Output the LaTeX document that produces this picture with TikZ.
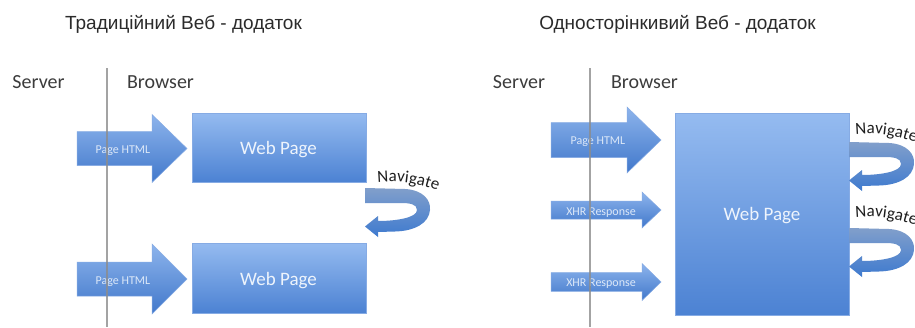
\documentclass[tikz,border=0pt]{standalone}
\usepackage{fontspec}
\setmainfont{Liberation Sans}
\newfontfamily\calfont{Carlito}
\usetikzlibrary{decorations.text}
\definecolor{boxtop}{HTML}{95BBF0}
\definecolor{boxbot}{HTML}{4C82D3}
\definecolor{boxline}{HTML}{86ABE4}
\definecolor{arrtop}{HTML}{8DB4EC}
\definecolor{arrbot}{HTML}{4178CB}
\definecolor{curltop}{HTML}{819FCB}
\definecolor{curlbot}{HTML}{3E7ACF}
\definecolor{linegray}{HTML}{8C8C8C}
\definecolor{labelgray}{HTML}{3C3C3C}
\definecolor{titlegray}{HTML}{2B2B2B}
\definecolor{pagetext}{HTML}{EEF4FC}
\definecolor{arrtext}{HTML}{DCE8F8}
\definecolor{navtext}{HTML}{1E1E1E}
\newcommand{\navstyle}{\calfont\fontsize{17}{17}\selectfont\color{navtext}}
% x1, xh, x2, yc, body half, head half
\newcommand{\blockarrow}[6]{%
  \shade[top color=arrtop, bottom color=arrbot, draw=boxline, line width=0.5pt]
   (#1,#4-#5) -- (#2,#4-#5) -- (#2,#4-#6) -- (#3,#4) -- (#2,#4+#6) -- (#2,#4+#5) -- (#1,#4+#5) -- cycle;}
\newcommand{\curlshape}[2]{%
  \begin{scope}[shift={(#1,#2)}]
  \shade[top color=curltop, bottom color=curlbot]
   (0,0) -- (40,1) .. controls (58,2) and (66,12) .. (65,22)
   .. controls (64,35) and (50,43) .. (30,43.5) -- (13,44) -- (13,49) -- (0,38.5)
   -- (13,28) -- (13,33) .. controls (30,33) and (52,30) .. (52,22)
   .. controls (52,16) and (45,15) .. (35,15) -- (0,15) -- cycle;
  \end{scope}}
\tikzset{
  titletext/.style={font=\fontsize{19}{21}\selectfont, text=titlegray, inner sep=0pt, anchor=base},
  lab/.style={font=\calfont\fontsize{20}{22}\selectfont, text=labelgray, inner sep=0pt, anchor=base},
  pagebox/.style={draw=boxline, line width=0.6pt, top color=boxtop, bottom color=boxbot, minimum width=174, inner sep=0pt},
  pagelab/.style={font=\calfont\fontsize{19}{21}\selectfont, text=pagetext, inner sep=0pt, anchor=base},
  arrlab/.style={font=\calfont\fontsize{12}{14}\selectfont, text=arrtext, inner sep=0pt, anchor=base},
  vline/.style={draw=linegray, line width=1.8pt, opacity=0.8},
  navpath/.style={decorate, decoration={text along path, text={|\navstyle|Navigate}, text align=center}}
}
\begin{document}
\begin{tikzpicture}[x=1pt,y=-1pt]
\useasboundingbox (0,0) rectangle (915,327);
\fill[white] (0,0) rectangle (915,327);

% ---------- left panel ----------
\node[titletext] (t1) at (183.5,29) {Традиційний Веб - додаток};
\node[lab] (srv1) at (38.5,88) {Server};
\node[lab] (br1) at (160.5,88) {Browser};

\blockarrow{77}{152}{187}{148.5}{17}{34}
\node[arrlab] (ph1) at (123,153) {Page HTML};
\blockarrow{77}{152}{187}{279}{17}{35}
\node[arrlab] (ph2) at (123,284) {Page HTML};

\node[pagebox, minimum height=69] (wp1) at (279,147.5) {};
\node[pagelab] (wp1t) at (278.5,154) {Web Page};
\node[pagebox, minimum height=70] (wp2) at (279,278) {};
\node[pagelab] (wp2t) at (278.5,285) {Web Page};

\curlshape{365}{188}
\path[navpath] (374,183) .. controls (395,180) and (420,183) .. (441,192);

\coordinate (l1top) at (107,68);
\coordinate (l1bot) at (107,327);
\draw[vline] (l1top) -- (l1bot);

% ---------- right panel ----------
\node[titletext] (t2) at (677.5,29) {Односторінкивий Веб - додаток};
\node[lab] (srv2) at (519,88) {Server};
\node[lab] (br2) at (644.5,88) {Browser};

\blockarrow{551}{627}{661}{140}{17.5}{33}
\node[arrlab] (ph3) at (598,144) {Page HTML};
\blockarrow{551}{642}{661}{210}{9}{18}
\node[arrlab] (xhr1) at (601,215) {XHR Response};
\blockarrow{551}{642}{661}{282}{9.3}{18.5}
\node[arrlab] (xhr2) at (601,286) {XHR Response};

\node[pagebox, minimum height=202] (wp3) at (762,214) {};
\node[pagelab] (wp3t) at (762,220) {Web Page};

\curlshape{849}{142}
\path[navpath] (852,135) .. controls (873,132) and (898,135) .. (919,144);
\curlshape{849}{228}
\path[navpath] (852,218) .. controls (873,215) and (898,218) .. (919,227);

\coordinate (l2top) at (590,68);
\coordinate (l2bot) at (590,327);
\draw[vline] (l2top) -- (l2bot);
\end{tikzpicture}
\end{document}
